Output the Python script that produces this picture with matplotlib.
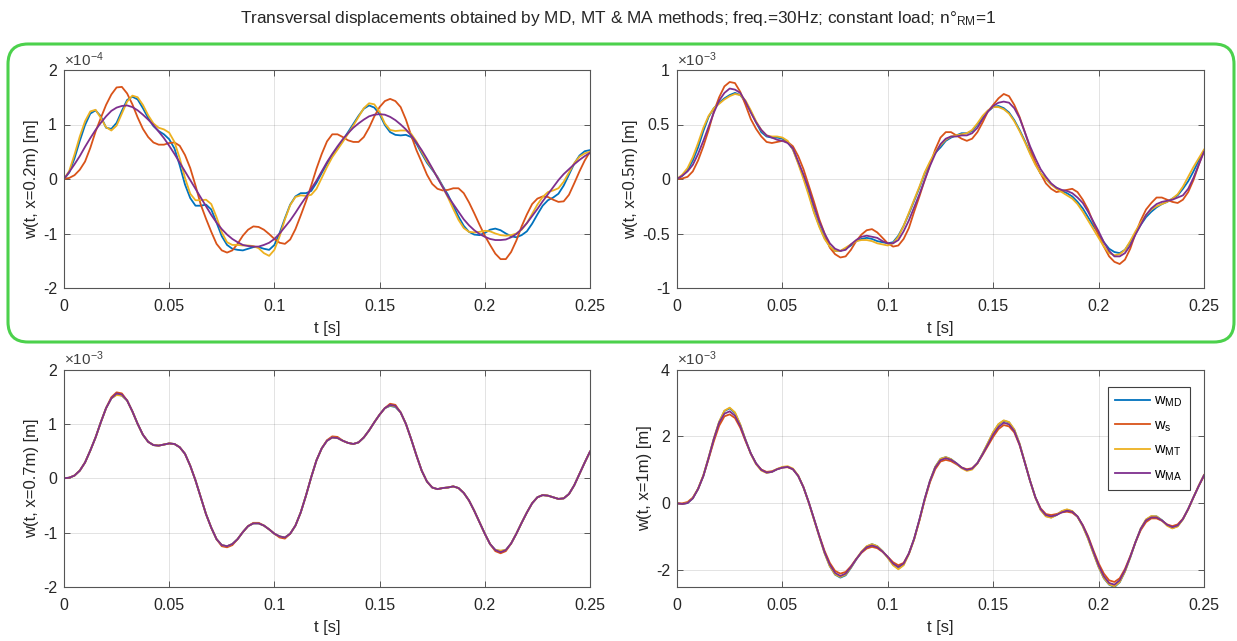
import numpy as np
import matplotlib
matplotlib.use("Agg")
import matplotlib.pyplot as plt
from matplotlib.patches import FancyBboxPatch
from matplotlib.ticker import FuncFormatter

# sample time axis (s), 0.0025 s step
t = np.linspace(0, 0.25, 101)

# x = 0.2 m, values in 1e-4 m
tl_md = [0, .12, .38, .70, .99, 1.20, 1.26, 1.15, .94, .92,
         1.03, 1.25, 1.45, 1.51, 1.46, 1.30, 1.12, .97, .88, .82,
         .73, .56, .25, -.10, -.35, -.49, -.49, -.47, -.56, -.80,
         -1.05, -1.21, -1.28, -1.30, -1.31, -1.28, -1.25, -1.25, -1.28, -1.30,
         -1.21, -.99, -.72, -.47, -.32, -.26, -.26, -.22, -.07, .11,
         .28, .44, .56, .71, .86, 1.01, 1.16, 1.29, 1.35, 1.31,
         1.19, .99, .86, .81, .80, .81, .77, .65, .47, .30,
         .17, .04, -.13, -.29, -.49, -.69, -.86, -.97, -1.02, -1.03,
         -.99, -.93, -.91, -.94, -1.00, -1.05, -1.07, -1.03, -.96, -.82,
         -.65, -.49, -.39, -.34, -.27, -.12, .08, .28, .43, .51,
         .53]
tl_s = [0, .02, .07, .17, .32, .57, .87, 1.12, 1.36, 1.55,
        1.68, 1.69, 1.57, 1.37, 1.13, .92, .77, .67, .63, .63,
        .66, .67, .61, .44, .20, -.12, -.47, -.73, -.97, -1.19,
        -1.31, -1.35, -1.31, -1.19, -1.04, -.93, -.87, -.88, -.93, -1.01,
        -1.10, -1.17, -1.19, -1.11, -.92, -.67, -.41, -.12, .19, .46,
        .69, .82, .82, .77, .71, .68, .68, .77, .94, 1.15,
        1.32, 1.43, 1.47, 1.43, 1.32, 1.09, .80, .53, .31, .08,
        -.09, -.18, -.21, -.20, -.17, -.17, -.26, -.43, -.63, -.84,
        -1.04, -1.21, -1.37, -1.47, -1.47, -1.34, -1.13, -.87, -.65, -.46,
        -.36, -.32, -.33, -.38, -.42, -.41, -.29, -.08, .14, .34,
        .50]
tl_mt = [0, .15, .45, .78, 1.06, 1.24, 1.27, 1.12, .95, .89,
         .98, 1.20, 1.42, 1.53, 1.50, 1.36, 1.17, 1.02, .94, .91,
         .85, .68, .38, .02, -.27, -.39, -.39, -.38, -.46, -.70,
         -.98, -1.16, -1.21, -1.21, -1.22, -1.22, -1.23, -1.27, -1.36, -1.41,
         -1.30, -1.05, -.74, -.48, -.33, -.30, -.31, -.29, -.18, .02,
         .22, .40, .54, .68, .83, .98, 1.14, 1.30, 1.39, 1.37,
         1.23, 1.02, .90, .88, .89, .89, .83, .69, .50, .33,
         .19, .03, -.15, -.34, -.55, -.75, -.90, -.97, -.98, -.97,
         -.95, -.96, -1.00, -1.03, -1.04, -1.03, -1.00, -.93, -.81, -.64,
         -.47, -.33, -.24, -.21, -.17, -.05, .12, .29, .41, .47,
         .50]
tl_ma = [0, .13, .27, .42, .59, .75, .90, 1.03, 1.15, 1.25,
         1.31, 1.34, 1.35, 1.32, 1.26, 1.18, 1.09, .99, .87, .75,
         .61, .46, .30, .14, -.02, -.18, -.34, -.50, -.66, -.80,
         -.92, -1.02, -1.10, -1.16, -1.21, -1.23, -1.24, -1.24, -1.21, -1.17,
         -1.10, -1.00, -.88, -.76, -.62, -.47, -.33, -.18, -.03, .14,
         .31, .46, .60, .73, .84, .94, 1.02, 1.09, 1.15, 1.18,
         1.19, 1.18, 1.14, 1.08, 1.00, .91, .80, .67, .53, .37,
         .20, .02, -.15, -.32, -.46, -.60, -.74, -.85, -.94, -1.01,
         -1.06, -1.10, -1.12, -1.12, -1.11, -1.07, -1.01, -.92, -.81, -.68,
         -.55, -.41, -.28, -.15, -.02, .09, .18, .27, .35, .42,
         .48]

# x = 0.5 m, values in 1e-3 m
tr_md = [0, .03, .08, .17, .29, .44, .57, .65, .70, .74,
         .77, .79, .77, .71, .62, .52, .43, .39, .38, .38,
         .37, .34, .27, .15, .02, -.13, -.30, -.43, -.54, -.62,
         -.66, -.66, -.64, -.61, -.57, -.55, -.54, -.55, -.57, -.58,
         -.59, -.58, -.52, -.43, -.32, -.20, -.08, .05, .15, .24,
         .29, .35, .38, .40, .42, .42, .44, .50, .56, .62,
         .66, .67, .65, .61, .54, .45, .35, .24, .14, .05,
         .00, -.05, -.08, -.11, -.13, -.16, -.21, -.27, -.35, -.43,
         -.50, -.58, -.64, -.67, -.68, -.65, -.58, -.50, -.42, -.35,
         -.30, -.26, -.23, -.21, -.18, -.15, -.09, -.02, .07, .17,
         .26]
tr_s = [0, .005, .02, .07, .17, .30, .45, .62, .75, .85,
        .89, .88, .80, .68, .55, .46, .39, .34, .33, .34,
        .35, .34, .30, .21, .09, -.06, -.21, -.37, -.50, -.63,
        -.69, -.72, -.71, -.65, -.57, -.51, -.47, -.46, -.49, -.54,
        -.59, -.62, -.61, -.55, -.45, -.30, -.16, -.01, .13, .27,
        .38, .43, .43, .40, .37, .35, .37, .43, .52, .62,
        .68, .74, .78, .76, .68, .57, .43, .28, .15, .05,
        -.04, -.09, -.12, -.11, -.10, -.09, -.12, -.19, -.28, -.40,
        -.52, -.62, -.71, -.76, -.78, -.74, -.64, -.50, -.38, -.28,
        -.22, -.17, -.17, -.19, -.21, -.22, -.19, -.12, -.01, .13,
        .26]
tr_mt = [0, .04, .10, .20, .33, .47, .58, .65, .69, .73,
         .76, .78, .77, .72, .63, .53, .45, .40, .39, .39,
         .38, .35, .27, .14, .00, -.15, -.31, -.44, -.55, -.62,
         -.66, -.66, -.63, -.60, -.57, -.56, -.56, -.57, -.59, -.60,
         -.61, -.59, -.53, -.43, -.31, -.19, -.07, .06, .16, .25,
         .31, .36, .39, .40, .41, .42, .45, .51, .58, .63,
         .66, .66, .64, .60, .53, .44, .34, .23, .13, .05,
         .00, -.05, -.09, -.12, -.15, -.18, -.23, -.30, -.38, -.46,
         -.54, -.62, -.68, -.70, -.69, -.65, -.57, -.48, -.40, -.33,
         -.28, -.25, -.23, -.21, -.18, -.14, -.07, .02, .11, .19,
         .27]
tr_ma = [0, .03, .07, .13, .23, .35, .48, .61, .72, .79,
         .83, .82, .79, .71, .61, .52, .45, .40, .38, .36,
         .35, .33, .28, .16, .04, -.09, -.25, -.39, -.50, -.59,
         -.64, -.66, -.65, -.60, -.56, -.53, -.52, -.53, -.54, -.57,
         -.59, -.59, -.56, -.48, -.38, -.26, -.14, -.01, .12, .23,
         .32, .37, .39, .39, .40, .40, .42, .47, .55, .62,
         .67, .70, .71, .70, .65, .56, .43, .30, .19, .09,
         .02, -.04, -.08, -.10, -.11, -.13, -.17, -.22, -.30, -.39,
         -.48, -.58, -.66, -.71, -.71, -.68, -.61, -.51, -.42, -.33,
         -.27, -.23, -.21, -.20, -.19, -.17, -.15, -.09, .01, .13,
         .25]

# x = 0.7 m, values in 1e-3 m
bl_md = [0, .01, .05, .14, .29, .51, .75, 1.03, 1.29, 1.47,
         1.54, 1.52, 1.43, 1.23, 1.00, .80, .67, .61, .60, .62,
         .64, .63, .57, .45, .23, -.04, -.35, -.66, -.91, -1.12,
         -1.23, -1.25, -1.21, -1.12, -.99, -.88, -.83, -.83, -.87, -.94,
         -1.02, -1.07, -1.09, -1.02, -.87, -.63, -.32, .02, .33, .55,
         .69, .75, .74, .69, .65, .63, .66, .75, .88, 1.03,
         1.17, 1.29, 1.33, 1.31, 1.21, 1.00, .72, .42, .14, -.06,
         -.17, -.20, -.18, -.17, -.15, -.18, -.27, -.41, -.60, -.81,
         -1.02, -1.21, -1.32, -1.34, -1.32, -1.20, -1.02, -.82, -.63, -.46,
         -.35, -.31, -.32, -.35, -.38, -.37, -.29, -.13, .08, .29,
         .49]
bl_s = [0, .01, .05, .14, .29, .51, .75, 1.03, 1.29, 1.49,
        1.58, 1.56, 1.43, 1.23, 1.00, .80, .67, .61, .60, .62,
        .64, .63, .57, .45, .23, -.04, -.35, -.66, -.91, -1.12,
        -1.25, -1.27, -1.23, -1.12, -.99, -.88, -.82, -.82, -.87, -.94,
        -1.02, -1.09, -1.11, -1.02, -.87, -.63, -.32, .02, .33, .55,
        .70, .77, .76, .69, .65, .63, .66, .75, .88, 1.03,
        1.17, 1.29, 1.37, 1.35, 1.21, 1.00, .72, .42, .14, -.06,
        -.17, -.20, -.18, -.17, -.15, -.18, -.27, -.41, -.60, -.81,
        -1.02, -1.21, -1.34, -1.38, -1.34, -1.20, -1.02, -.82, -.63, -.46,
        -.35, -.31, -.32, -.35, -.38, -.37, -.29, -.13, .08, .29,
        .49]
bl_mt = [0, .01, .05, .14, .29, .51, .75, 1.03, 1.29, 1.47,
         1.53, 1.52, 1.43, 1.23, 1.00, .80, .67, .61, .60, .62,
         .64, .63, .57, .45, .23, -.04, -.35, -.66, -.91, -1.12,
         -1.23, -1.25, -1.21, -1.12, -.99, -.88, -.83, -.83, -.87, -.94,
         -1.02, -1.07, -1.09, -1.02, -.87, -.63, -.32, .02, .33, .55,
         .69, .75, .74, .69, .65, .63, .66, .75, .88, 1.03,
         1.17, 1.29, 1.34, 1.32, 1.21, 1.00, .72, .42, .14, -.06,
         -.17, -.20, -.18, -.17, -.15, -.18, -.27, -.41, -.60, -.81,
         -1.02, -1.21, -1.32, -1.33, -1.32, -1.20, -1.02, -.82, -.63, -.46,
         -.35, -.31, -.32, -.35, -.38, -.37, -.29, -.13, .08, .29,
         .49]
bl_ma = [0, .01, .05, .14, .29, .51, .75, 1.03, 1.29, 1.47,
         1.56, 1.54, 1.43, 1.23, 1.00, .80, .67, .61, .60, .62,
         .64, .63, .57, .45, .23, -.04, -.35, -.66, -.91, -1.12,
         -1.23, -1.25, -1.21, -1.12, -.99, -.88, -.83, -.83, -.87, -.94,
         -1.02, -1.07, -1.09, -1.02, -.87, -.63, -.32, .02, .33, .55,
         .69, .75, .74, .69, .65, .63, .66, .75, .88, 1.03,
         1.17, 1.29, 1.35, 1.33, 1.21, 1.00, .72, .42, .14, -.06,
         -.17, -.20, -.18, -.17, -.15, -.18, -.27, -.41, -.60, -.81,
         -1.02, -1.21, -1.32, -1.36, -1.32, -1.20, -1.02, -.82, -.63, -.46,
         -.35, -.31, -.32, -.35, -.38, -.37, -.29, -.13, .08, .29,
         .49]

# x = 1 m, values in 1e-3 m
br_md = [0, -.02, .01, .15, .43, .82, 1.36, 1.93, 2.43, 2.76,
         2.84, 2.70, 2.35, 1.90, 1.49, 1.19, 1.00, .92, .94, 1.02,
         1.07, 1.09, 1.02, .82, .48, .03, -.47, -.98, -1.48, -1.88,
         -2.13, -2.22, -2.15, -1.93, -1.68, -1.46, -1.29, -1.22, -1.28, -1.43,
         -1.62, -1.83, -1.95, -1.83, -1.50, -1.06, -.49, .13, .67, 1.09,
         1.33, 1.38, 1.32, 1.20, 1.07, .99, 1.03, 1.20, 1.49, 1.80,
         2.12, 2.36, 2.47, 2.42, 2.20, 1.78, 1.22, .67, .18, -.19,
         -.38, -.42, -.35, -.24, -.19, -.24, -.40, -.68, -1.05, -1.48,
         -1.90, -2.24, -2.43, -2.50, -2.36, -2.04, -1.62, -1.16, -.76, -.49,
         -.39, -.39, -.50, -.65, -.74, -.68, -.47, -.17, .18, .52,
         .84]
br_s = [0, .00, .04, .17, .43, .82, 1.33, 1.86, 2.32, 2.60,
        2.66, 2.55, 2.26, 1.86, 1.49, 1.19, 1.01, .94, .96, 1.02,
        1.07, 1.08, 1.02, .82, .48, .03, -.47, -.96, -1.42, -1.78,
        -2.02, -2.10, -2.05, -1.88, -1.66, -1.48, -1.35, -1.30, -1.34, -1.45,
        -1.60, -1.76, -1.85, -1.78, -1.50, -1.06, -.51, .10, .63, 1.02,
        1.25, 1.30, 1.26, 1.17, 1.07, 1.02, 1.05, 1.20, 1.45, 1.72,
        1.99, 2.22, 2.34, 2.30, 2.12, 1.74, 1.22, .67, .18, -.15,
        -.32, -.35, -.32, -.27, -.25, -.28, -.40, -.65, -.98, -1.40,
        -1.79, -2.10, -2.30, -2.35, -2.24, -1.96, -1.58, -1.16, -.80, -.56,
        -.45, -.45, -.52, -.63, -.68, -.63, -.46, -.17, .18, .52,
        .82]
br_mt = [0, -.02, .02, .16, .44, .84, 1.38, 1.95, 2.44, 2.77,
         2.86, 2.72, 2.36, 1.90, 1.48, 1.17, .98, .91, .94, 1.03,
         1.09, 1.11, 1.04, .83, .48, .02, -.49, -1.00, -1.49, -1.88,
         -2.12, -2.20, -2.13, -1.92, -1.67, -1.44, -1.28, -1.22, -1.28, -1.43,
         -1.63, -1.85, -1.97, -1.85, -1.52, -1.08, -.51, .12, .67, 1.09,
         1.33, 1.38, 1.32, 1.19, 1.05, .97, 1.01, 1.19, 1.49, 1.81,
         2.13, 2.37, 2.48, 2.43, 2.21, 1.79, 1.23, .67, .17, -.20,
         -.39, -.43, -.35, -.23, -.18, -.23, -.40, -.69, -1.06, -1.49,
         -1.90, -2.23, -2.42, -2.48, -2.35, -2.04, -1.62, -1.16, -.75, -.48,
         -.38, -.39, -.51, -.67, -.75, -.69, -.48, -.18, .18, .53,
         .85]
br_ma = [0, -.02, .01, .15, .43, .82, 1.36, 1.93, 2.41, 2.68,
         2.75, 2.62, 2.31, 1.89, 1.49, 1.19, 1.00, .92, .94, 1.02,
         1.07, 1.09, 1.02, .82, .48, .03, -.47, -.98, -1.46, -1.83,
         -2.08, -2.17, -2.10, -1.90, -1.67, -1.46, -1.31, -1.26, -1.31, -1.44,
         -1.60, -1.80, -1.90, -1.80, -1.50, -1.06, -.49, .13, .67, 1.07,
         1.29, 1.35, 1.30, 1.20, 1.07, 1.00, 1.04, 1.20, 1.47, 1.76,
         2.06, 2.28, 2.41, 2.36, 2.16, 1.76, 1.22, .67, .18, -.17,
         -.35, -.39, -.35, -.27, -.22, -.25, -.39, -.66, -1.01, -1.44,
         -1.85, -2.18, -2.38, -2.43, -2.30, -2.00, -1.60, -1.16, -.76, -.51,
         -.42, -.42, -.51, -.64, -.71, -.66, -.47, -.17, .18, .52,
         .84]

labels = ["w$_{MD}$", "w$_{s}$", "w$_{MT}$", "w$_{MA}$"]
colors = ["#0072BD", "#D95319", "#EDB120", "#7E2F8E"]
xticks = [0, 0.05, 0.1, 0.15, 0.2, 0.25]

plt.rcParams["font.family"] = ["Liberation Sans", "DejaVu Sans"]
plt.rcParams["mathtext.default"] = "regular"
plt.rcParams["axes.unicode_minus"] = False

W, H = 1237, 641
fig = plt.figure(figsize=(W / 100, H / 100), dpi=100)
fig.patch.set_facecolor("white")

fmt = FuncFormatter(lambda v, p: "%g" % round(v, 6))


def make_axes(x0, y0, x1, y1):
    return fig.add_axes([x0 / W, 1 - y1 / H, (x1 - x0) / W, (y1 - y0) / H])


def draw_panel(ax, series, ylim, yticks, ylabel, expo):
    for vals, c, lab in zip(series, colors, labels):
        ax.plot(np.linspace(0, 0.25, len(vals)), vals, color=c, lw=1.3, label=lab)
    ax.set_xlim(0, 0.25)
    ax.set_ylim(*ylim)
    ax.set_xticks(xticks)
    ax.set_yticks(yticks)
    ax.xaxis.set_major_formatter(fmt)
    ax.yaxis.set_major_formatter(fmt)
    ax.grid(True, color="#262626", alpha=0.13, lw=0.7)
    ax.tick_params(direction="in", top=True, right=True, length=4, width=0.6,
                   colors="#404040", labelsize=11.5, labelcolor="#262626")
    ax.tick_params(axis="x", pad=8)
    ax.tick_params(axis="y", pad=5)
    for sp in ax.spines.values():
        sp.set_color("#555555")
        sp.set_linewidth(0.8)
    ax.set_xlabel("t [s]", fontsize=12, color="#262626", labelpad=5)
    ax.set_ylabel(ylabel, fontsize=12, color="#262626", labelpad=3)
    ax.text(0.0, 1.005, "\u00d710$^{" + expo + "}$", transform=ax.transAxes,
            fontsize=11, color="#404040", ha="left", va="bottom")


ax1 = make_axes(64, 70, 590, 288)
draw_panel(ax1, [tl_md, tl_s, tl_mt, tl_ma], (-2, 2), [-2, -1, 0, 1, 2],
           "w(t, x=0.2m) [m]", "-4")
ax2 = make_axes(677, 70, 1204, 288)
draw_panel(ax2, [tr_md, tr_s, tr_mt, tr_ma], (-1, 1), [-1, -0.5, 0, 0.5, 1],
           "w(t, x=0.5m) [m]", "-3")
ax3 = make_axes(64, 369.5, 590, 587)
draw_panel(ax3, [bl_md, bl_s, bl_mt, bl_ma], (-2, 2), [-2, -1, 0, 1, 2],
           "w(t, x=0.7m) [m]", "-3")
ax4 = make_axes(677, 369.5, 1204, 587)
draw_panel(ax4, [br_md, br_s, br_mt, br_ma], (-2.5, 4), [-2, 0, 2, 4],
           "w(t, x=1m) [m]", "-3")

leg = ax4.legend(loc="upper right", bbox_to_anchor=(0.987, 0.955), fontsize=10.5,
                 handlelength=2.4, labelspacing=0.62, borderpad=0.5,
                 handletextpad=0.3, fancybox=False, framealpha=1)
leg.get_frame().set_edgecolor("#404040")
leg.get_frame().set_linewidth(0.8)

fig.text(618 / W, 1 - 18 / H,
         "Transversal displacements obtained by MD, MT & MA methods; "
         "freq.=30Hz; constant load; n\u00b0$_{RM}$=1",
         ha="center", va="center", fontsize=12.4, color="#262626")

# green rounded frame around the upper row
frame = FancyBboxPatch((0.08, (H - 342) / 100), 12.26, 2.98,
                       boxstyle="round,pad=0,rounding_size=0.2",
                       transform=fig.dpi_scale_trans, fill=False,
                       edgecolor="#4cd14c", linewidth=2.2)
fig.add_artist(frame)

fig.savefig("out.png", dpi=100)
